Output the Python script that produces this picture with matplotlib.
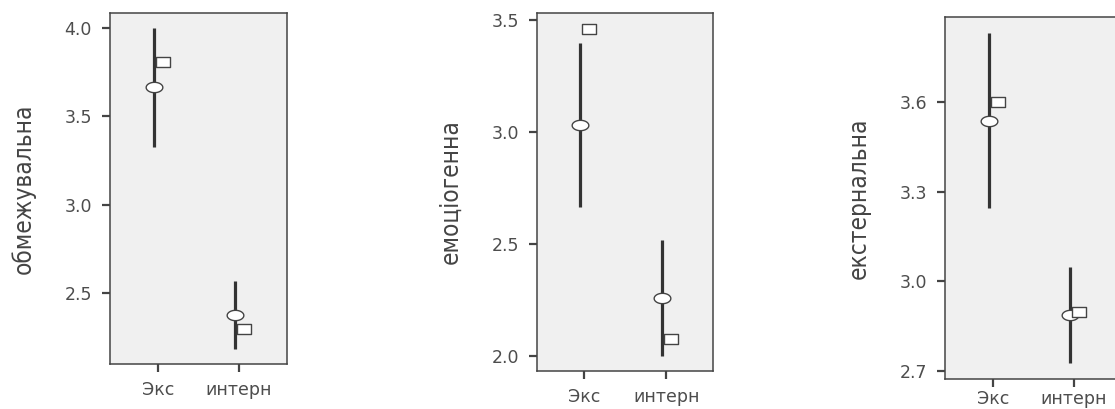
import matplotlib
matplotlib.use("Agg")
import matplotlib.pyplot as plt
import numpy as np
from matplotlib.path import Path
from matplotlib.ticker import FormatStrFormatter
from matplotlib import font_manager

groups = ['Экс', 'интерн']
scales = ['обмежувальна', 'емоціогенна', 'екстернальна']

# circle = mean, whiskers = interval, square = second estimate
means = [[3.665, 2.375], [3.03, 2.26], [3.537, 2.886]]
lower = [[3.324, 2.18], [2.665, 2.00], [3.246, 2.727]]
upper = [[4.00, 2.568], [3.397, 2.518], [3.83, 3.047]]
squares = [[3.807, 2.295], [3.46, 2.076], [3.60, 2.896]]

yticks = [[2.5, 3.0, 3.5, 4.0], [2.0, 2.5, 3.0, 3.5], [2.7, 3.0, 3.3, 3.6]]
ylims = [(2.097, 4.085), (1.933, 3.531), (2.673, 3.884)]
xlims = [(-0.59, 1.59), (-0.57, 1.57), (-0.59, 1.59)]

# axes rectangles in figure fractions (third one runs off the right edge)
rects = [[0.0987, 0.110, 0.1587, 0.858],
         [0.4816, 0.093, 0.1580, 0.875],
         [0.8475, 0.073, 0.1587, 0.885]]
xpads = [6, 6, 1.5]

# look for a narrow face for the y labels, fall back to a plain one
narrow = None
for f in font_manager.fontManager.ttflist:
    n = f.name.lower()
    if 'narrow' in n or 'condensed' in n or f.stretch in ('condensed', 'semi-condensed', 'extra-condensed'):
        narrow = f
        break
if narrow is not None:
    lab_font = dict(family=narrow.name, stretch=narrow.stretch, fontsize=17.5)
else:
    lab_font = dict(family='Liberation Sans', fontsize=16)

# squashed marker shapes (the source image is stretched sideways)
t = np.linspace(0, 2 * np.pi, 64)
ellipse = Path(np.column_stack([np.cos(t), 0.62 * np.sin(t)]), closed=True)
box = Path([(-1, -0.7), (1, -0.7), (1, 0.7), (-1, 0.7), (-1, -0.7)], closed=True)

fig = plt.figure(figsize=(11.15, 4.09), dpi=100)

x = np.arange(len(groups))
for i in range(3):
    ax = fig.add_axes(rects[i])
    ax.set_facecolor('#f0f0f0')
    m = np.array(means[i])
    lo = np.array(lower[i])
    hi = np.array(upper[i])
    ax.vlines(x - 0.05, lo, hi, color='#333333', lw=2.3, zorder=2)
    ax.plot(x - 0.05, m, ls='none', marker=ellipse, ms=12,
            mfc='white', mec='#444444', mew=1.0, zorder=3)
    ax.plot(x + 0.06, squares[i], ls='none', marker=box, ms=9.4,
            mfc='white', mec='#444444', mew=1.0, zorder=3)

    ax.set_xlim(*xlims[i])
    ax.set_ylim(*ylims[i])
    ax.set_xticks(x)
    ax.set_xticklabels(groups)
    ax.set_yticks(yticks[i])
    ax.yaxis.set_major_formatter(FormatStrFormatter('%.1f'))
    ax.tick_params(length=6, width=1.6, color='#444444', pad=7,
                   labelsize=12.5, labelcolor='#4d4d4d')
    ax.tick_params(axis='x', pad=xpads[i])
    for s in ax.spines.values():
        s.set_color('#444444')
        s.set_linewidth(1.1)

    ax.set_ylabel(scales[i], color='#444444', **lab_font)
    ax.yaxis.set_label_coords(-0.49, 0.5)
    ax.yaxis.label.set_va('center')

fig.savefig('out.png', dpi=100)
